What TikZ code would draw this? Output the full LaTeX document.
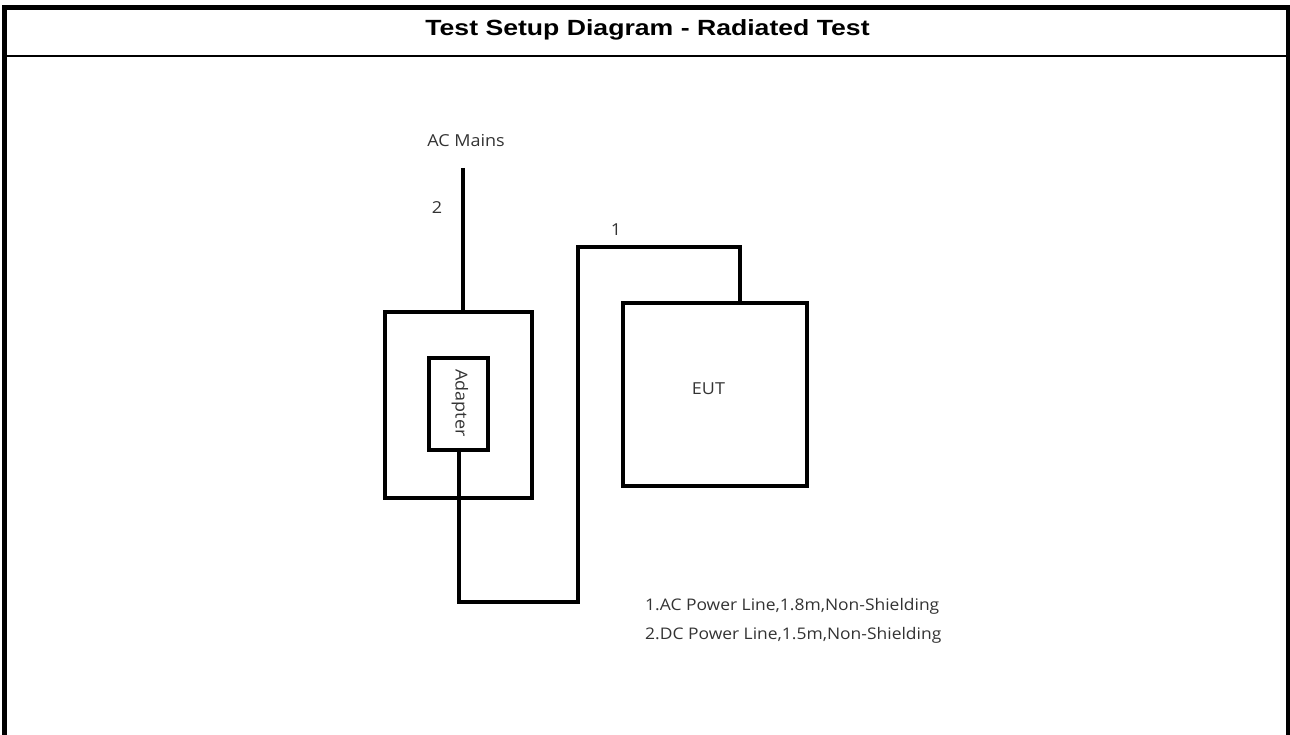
\documentclass[tikz,border=0pt]{standalone}
\usepackage{fontspec}
\setmainfont{Liberation Sans}
\newfontfamily\titlefont[FakeStretch=1.21]{Liberation Sans Bold}
\newfontfamily\notefont[FakeStretch=1.09]{Open Sans}
\begin{document}
\begin{tikzpicture}[x=1pt,y=-1pt,
  frame/.style={line width=5pt},
  wire/.style={line width=4pt},
  box/.style={draw,line width=4pt,rectangle,inner sep=0pt},
  lbl/.style={font=\notefont\fontsize{16.5}{20}\selectfont,text=black!80,inner sep=0pt}]
\useasboundingbox (0,0) rectangle (1290,735);
% table frame
\draw[frame] (4.5,735) -- (4.5,7.5) -- (1288.5,7.5) -- (1288.5,735);
\draw[line width=2pt] (4,56.5) -- (1288,56.5);
\node[font=\titlefont\fontsize{22}{26}\selectfont,inner sep=0pt] (title) at (647.5,30) {Test Setup Diagram - Radiated Test};
% boxes
\node[box,minimum width=147pt,minimum height=186pt] (outer) at (458.5,405) {};
\node[box,minimum width=59pt,minimum height=92pt] (adapter) at (458.5,404) {};
\node[lbl,rotate=-90] (adlbl) at (460,403) {Adapter};
\node[box,minimum width=184pt,minimum height=183pt] (eut) at (715,394.5) {};
\node[lbl] (eutlbl) at (708.5,388.5) {EUT};
% labels
\node[lbl] (acm) at (466,141) {AC Mains};
\node[lbl] (n2) at (437,208) {2};
\node[lbl] (n1) at (616,230) {1};
% wires
\coordinate (acend) at (463,168);
\coordinate (c1) at (578,602);
\coordinate (c2) at (740,247);
\draw[wire] (acend) -- (acend |- outer.north);
\draw[wire] (adapter.south) |- (c1) |- (c2) -- (c2 |- eut.north);
% notes
\node[lbl,anchor=west,align=left,font=\notefont\fontsize{16}{29}\selectfont] (notes) at (645,620.5) {1.AC Power Line,1.8m,Non-Shielding\\2.DC Power Line,1.5m,Non-Shielding};
\end{tikzpicture}
\end{document}
